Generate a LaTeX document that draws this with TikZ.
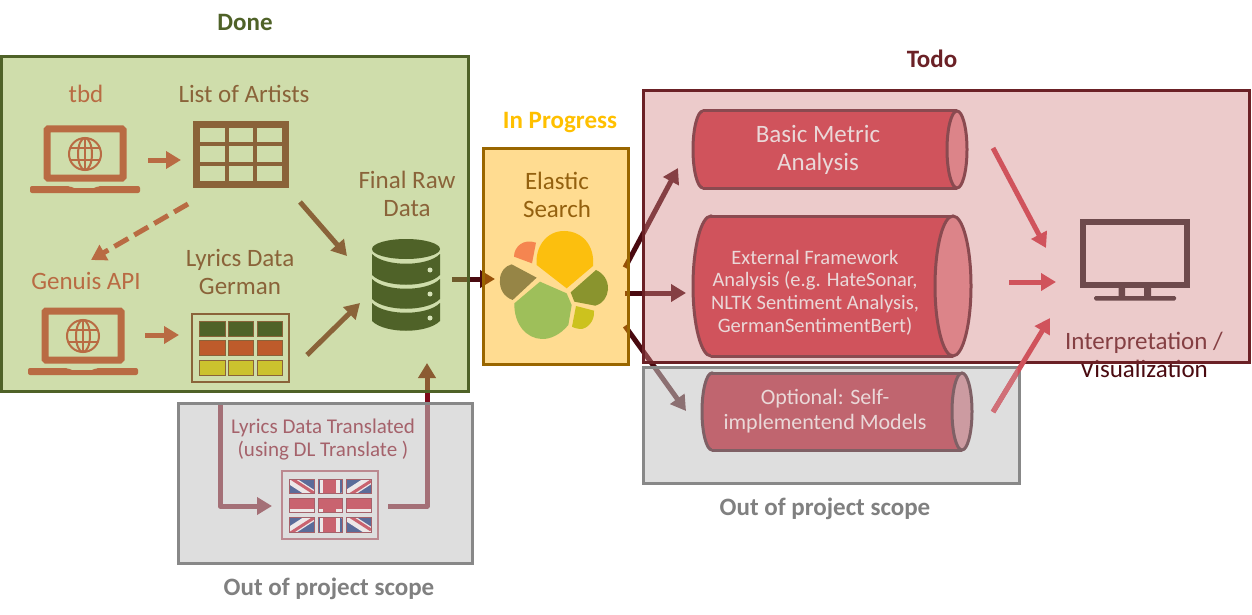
\documentclass[tikz,border=0pt]{standalone}
\usepackage{fontspec}
\setmainfont{Carlito}
\usetikzlibrary{arrows.meta}
\definecolor{doneDk}{HTML}{4F6228}
\definecolor{doneOv}{HTML}{99B74D}
\definecolor{esOv}{HTML}{FFB000}
\definecolor{esDk}{HTML}{996600}
\definecolor{esT}{HTML}{94610F}
\definecolor{gold}{HTML}{FFC000}
\definecolor{pinkOv}{HTML}{D38787}
\definecolor{pinkDk}{HTML}{6B2126}
\definecolor{grayOv}{HTML}{C4C4C4}
\definecolor{grayDk}{HTML}{888888}
\definecolor{under}{HTML}{4A0A10}
\definecolor{underR}{HTML}{7F0A1A}
\definecolor{orangeB}{HTML}{B96B43}
\definecolor{brownB}{HTML}{8A6339}
\definecolor{redA}{HTML}{D0535C}
\definecolor{redG}{HTML}{D07078}
\definecolor{lightT}{HTML}{EAD8D8}
\definecolor{flagT}{HTML}{A5626B}
\definecolor{flagR}{HTML}{C9636F}
\definecolor{flagB}{HTML}{5B6C99}
\definecolor{flagW}{HTML}{EDE8E8}
\definecolor{monC}{HTML}{6E4A4C}
\definecolor{cylS}{HTML}{8A4A50}
\definecolor{cylE}{HTML}{DC8489}
\definecolor{cylG}{HTML}{C0656F}
\definecolor{cylGE}{HTML}{CC9BA1}
\definecolor{cylGS}{HTML}{7F6065}
\definecolor{cellO}{HTML}{BE5B2B}
\definecolor{cellY}{HTML}{CBC22E}
\definecolor{logoA}{HTML}{FCBF0E}
\definecolor{logoB}{HTML}{F58550}
\definecolor{logoC}{HTML}{968546}
\definecolor{logoD}{HTML}{9EBF5A}
\definecolor{logoE}{HTML}{8A942E}
\definecolor{logoF}{HTML}{CCC21E}
\tikzset{
 x=1pt,y=-1pt,
 zone/.style={draw,line width=3pt,line join=miter,inner sep=0pt,outer sep=0pt},
 ghost/.style={inner sep=0pt,outer sep=0pt},
 lab/.style={align=center,inner sep=0pt,font=\fontsize{25}{28}\selectfont},
 title/.style={inner sep=0pt,font=\fontsize{25}{28}\selectfont\bfseries},
 thin arr/.style={line width=5pt,-{Triangle[length=15pt,width=17pt]},line join=round},
}
% laptop drawn around its own origin (globe centre)
\newcommand\laptopicon[2]{%
 \begin{scope}[shift={(#1,#2)}]
  \draw[orangeB,line width=7pt,rounded corners=1pt] (-38,-25) rectangle (38,24);
  \fill[orangeB,rounded corners=2pt] (-55,32) -- (-15,32) -- (-13,34) -- (11,34) -- (13,32) -- (55,32) -- (55,39) -- (-55,39) -- cycle;
  \draw[orangeB,line width=2pt] (0,0) circle (16);
  \draw[orangeB,line width=2pt] (0,0) ellipse (7 and 16);
  \draw[orangeB,line width=2pt] (0,-16) -- (0,16) (-15,-6) -- (15,-6) (-15,6) -- (15,6);
 \end{scope}}
\newcommand\dbband[2]{%
 \fill[doneDk] (372,#1) .. controls (385,#1+13) and (427,#1+13) .. (440,#1) -- (440,#2) .. controls (427,#2+13) and (385,#2+13) .. (372,#2) -- cycle;}
% cylinder: x1,y1,x2,y2,rx,fill,end fill,stroke
\newcommand\cylinderbody[8]{%
 \pgfmathsetmacro\cyA{#1+#5}\pgfmathsetmacro\cyB{#3-#5}%
 \pgfmathsetmacro\cyM{(#2+#4)/2}\pgfmathsetmacro\cyR{(#4-#2)/2}%
 \draw[line width=3pt,draw=#8,fill=#6] (\cyA,\cyM) ellipse (#5 and \cyR);
 \fill[#6] (\cyA,#2) rectangle (\cyB,#4);
 \draw[line width=3pt,draw=#8] (\cyA,#2) -- (\cyB,#2) (\cyA,#4) -- (\cyB,#4);
 \draw[line width=3pt,draw=#8,fill=#7] (\cyB,\cyM) ellipse (#5 and \cyR);}
\begin{document}
\begin{tikzpicture}
\useasboundingbox (0,0) rectangle (1252,615);
\fill[white] (0,0) rectangle (1252,615);

% free connector ends
\coordinate (dbOut) at (452,279);
\coordinate (esIn) at (495,279);
\coordinate (esA) at (625,267.6);
\coordinate (esB) at (625,293);
\coordinate (esC) at (625,326);
\coordinate (cylAin) at (678,168);
\coordinate (cylBin) at (686,293);
\coordinate (cylCin) at (686,411);
\coordinate (lyrOut) at (220,405);
\coordinate (lyrBend) at (220,506);
\coordinate (flagIn) at (272,506);
\coordinate (flagOut) at (388,506);
\coordinate (flagBend) at (427,506);
\coordinate (dbIn) at (427,363);

% connectors that run beneath the translucent zones
\draw[under,thin arr] (dbOut) -- (esIn);
\draw[under,thin arr] (esA) -- (cylAin);
\draw[under,thin arr] (esB) -- (cylBin);
\draw[under,thin arr] (esC) -- (cylCin);
\draw[underR,thin arr] (lyrOut) -- (lyrBend) -- (flagIn);
\draw[underR,thin arr] (flagOut) -- (flagBend) -- (dbIn);

% labels partly covered by the Todo zone
\node[lab,text=under] (interp) at (1144,355) {Interpretation /\\Visualization};

% zones
\node[zone,draw=doneDk,fill=doneOv,fill opacity=.47,minimum width=467pt,minimum height=334pt] (done) at (234.5,224) {};
\node[zone,draw=esDk,fill=esOv,fill opacity=.43,minimum width=145pt,minimum height=216pt] (es) at (555.5,256) {};
\node[zone,draw=pinkDk,fill=pinkOv,fill opacity=.43,minimum width=606pt,minimum height=271pt] (todo) at (946,226.5) {};
\node[zone,draw=grayDk,fill=grayOv,fill opacity=.55,minimum width=294pt,minimum height=160pt] (scopeL) at (325,483) {};
\node[zone,draw=grayDk,fill=grayOv,fill opacity=.55,minimum width=376pt,minimum height=116pt] (scopeR) at (831,425) {};

% titles
\node[title,text=doneDk] (tDone) at (245,22.5) {Done};
\node[title,text=gold] (tProg) at (560,122.5) {In Progress};
\node[title,text=pinkDk] (tTodo) at (932,59) {Todo};
\node[title,text=gray] (tOutL) at (329,589) {Out of project scope};
\node[title,text=gray] (tOutR) at (825,509) {Out of project scope};

% Done: labels
\node[lab,text=orangeB] (lTbd) at (86,94) {tbd};
\node[lab,text=brownB] (lList) at (244,94) {List of Artists};
\node[lab,text=orangeB] (lGen) at (86,281) {Genuis API};
\node[lab,text=brownB] (lLyr) at (240,272) {Lyrics Data\\German};
\node[lab,text=brownB] (lRaw) at (407,194) {Final Raw\\Data};

% laptops
\node[ghost,minimum width=110pt,minimum height=67pt] (lap1) at (85,160) {};
\laptopicon{85}{154}
\node[ghost,minimum width=110pt,minimum height=67pt] (lap2) at (83,342) {};
\laptopicon{83}{336}

% list table
\node[ghost,minimum width=96pt,minimum height=67pt] (tblA) at (241,154.5) {};
\draw[brownB,line width=7pt] (196.5,124.5) rectangle (285.5,184.5);
\draw[brownB,line width=4pt] (227,124) -- (227,185) (255,124) -- (255,185) (196,144) -- (286,144) (196,164) -- (286,164);

% lyrics table
\node[ghost,draw=brownB,line width=1.2pt,minimum width=97pt,minimum height=68pt] (tblB) at (240.5,348) {};
\foreach \yy/\cc in {321/doneDk,340/cellO,360/cellY}{
 \foreach \xa/\xb in {199/225,228/253,257/282}{
  \draw[brownB,line width=1pt,fill=\cc] (\xa,\yy) rectangle (\xb,\yy+15);}}

% database
\node[ghost,minimum width=68pt,minimum height=92pt] (db) at (406,285) {};
\fill[doneDk] (406,249) ellipse (34 and 10);
\dbband{254}{275}
\dbband{279}{299}
\dbband{303}{321}
\foreach \yy in {270,294,318}{\fill[doneOv!40!white] (430,\yy) circle (2.5);}

% Done arrows
\coordinate (a1s) at (148,160); \coordinate (a1e) at (181,160);
\coordinate (a2s) at (145,335); \coordinate (a2e) at (179,335);
\coordinate (a3s) at (188,204); \coordinate (a3e) at (91,260);
\coordinate (a4s) at (300,202); \coordinate (a4e) at (347,256);
\coordinate (a5s) at (307,355); \coordinate (a5e) at (360,303);
\draw[orangeB,thin arr] (a1s) -- (a1e);
\draw[orangeB,thin arr] (a2s) -- (a2e);
\draw[orangeB,thin arr,dash pattern=on 16pt off 7pt] (a3s) -- (a3e);
\draw[brownB,thin arr] (a4s) -- (a4e);
\draw[brownB,thin arr] (a5s) -- (a5e);

% Out of scope (left)
\node[lab,text=flagT,font=\fontsize{21}{23}\selectfont] (lTrans) at (323,439.5) {Lyrics Data Translated\\(using DL Translate )};
\node[ghost,draw=flagT!75!white,line width=1.2pt,minimum width=96pt,minimum height=68pt] (flag) at (330,505) {};
\begin{scope}
 \clip (289,479) rectangle (314,493) (318,479) rectangle (342,493) (346,479) rectangle (371,493)
       (289,498) rectangle (314,512) (318,498) rectangle (342,512) (346,498) rectangle (371,512)
       (289,517) rectangle (314,532) (318,517) rectangle (342,532) (346,517) rectangle (371,532);
 \fill[flagB] (289,479) rectangle (371,532);
 \draw[flagW,line width=9pt] (289,479) -- (371,532) (289,532) -- (371,479);
 \draw[flagR,line width=3pt] (289,477) -- (371,530) (289,534) -- (371,481);
 \draw[flagW,line width=20pt] (330,479) -- (330,532);
 \fill[flagW] (289,498) rectangle (371,512);
 \fill[flagR] (323,479) rectangle (336,532);
 \fill[flagR] (289,498) rectangle (371,509);
\end{scope}
\foreach \xa/\xb in {289/314,318/342,346/371}{
 \foreach \ya/\yb in {479/493,498/512,517/532}{
  \draw[flagT,line width=1pt] (\xa,\ya) rectangle (\xb,\yb);}}

% cylinders
\node[ghost,minimum width=274pt,minimum height=77pt] (cylA) at (830,149.5) {};
\cylinderbody{693}{111}{967}{188}{10}{redA}{cylE}{cylS}
\node[lab,text=lightT] (tCylA) at (818,149.5) {Basic Metric\\Analysis};
\node[ghost,minimum width=278pt,minimum height=140pt] (cylB) at (832,286) {};
\cylinderbody{693}{216}{971}{356}{18}{redA}{cylE}{cylS}
\node[lab,text=lightT,font=\fontsize{20.5}{22.7}\selectfont] (tCylB) at (815,292.5) {External Framework\\Analysis (e.g. HateSonar,\\NLTK Sentiment Analysis,\\GermanSentimentBert)};
\node[ghost,minimum width=270pt,minimum height=77pt] (cylC) at (837,411.5) {};
\cylinderbody{702}{373}{972}{450}{10}{cylG}{cylGE}{cylGS}
\node[lab,text=lightT,font=\fontsize{22}{25}\selectfont] (tCylC) at (825,411) {Optional: Self-\\implementend Models};

% monitor
\node[ghost,minimum width=110pt,minimum height=81pt] (mon) at (1135,259.5) {};
\draw[monC,line width=6.5pt] (1083,222) rectangle (1187,285);
\fill[monC] (1118.5,288) rectangle (1125,297) (1144,288) rectangle (1151,297);
\fill[monC,rounded corners=1.5pt] (1094,296) rectangle (1176,300.5);

% arrows to monitor
\coordinate (m1s) at (993,148); \coordinate (m1e) at (1046,248);
\coordinate (m2s) at (1009,282); \coordinate (m2e) at (1056,282);
\coordinate (m3s) at (993,412); \coordinate (m3e) at (1050,318);
\draw[redA,thin arr] (m1s) -- (m1e);
\draw[redA,thin arr] (m2s) -- (m2e);
\draw[redA,thin arr] (m3s) -- (m3e);
\begin{scope}
 \clip (960,368.5) rectangle (1017.5,482);
 \draw[redG,thin arr] (m3s) -- (m3e);
\end{scope}

% Elastic Search
\node[lab,text=esT] (lEs) at (557,194.5) {Elastic\\Search};
\begin{scope}[shift={(440,130)},scale=1/3]
 \fill[logoA] (290,405) .. controls (285,350) and (320,303) .. (372,303) .. controls (425,303) and (465,345) .. (459,408) -- (380,475) -- cycle;
 \fill[logoB] (222,380) .. controls (222,350) and (250,325) .. (288,338) -- (276,400) -- cycle;
 \fill[logoC] (215,403) -- (290,443) -- (218,510) .. controls (190,500) and (178,475) .. (180,450) .. controls (180,425) and (195,408) .. (215,403) -- cycle;
 \fill[logoD] (300,455) -- (380,490) -- (395,525) -- (385,585) .. controls (360,615) and (330,628) .. (305,627) .. controls (260,625) and (222,585) .. (223,520) -- cycle;
 \fill[logoE] (392,487) -- (468,420) .. controls (490,430) and (505,450) .. (504,478) .. controls (502,500) and (490,520) .. (466,527) -- (403,515) -- cycle;
 \fill[logoF] (408,528) -- (462,542) .. controls (465,575) and (440,598) .. (420,597) .. controls (410,597) and (400,592) .. (396,590) -- cycle;
\end{scope}
\end{tikzpicture}
\end{document}
